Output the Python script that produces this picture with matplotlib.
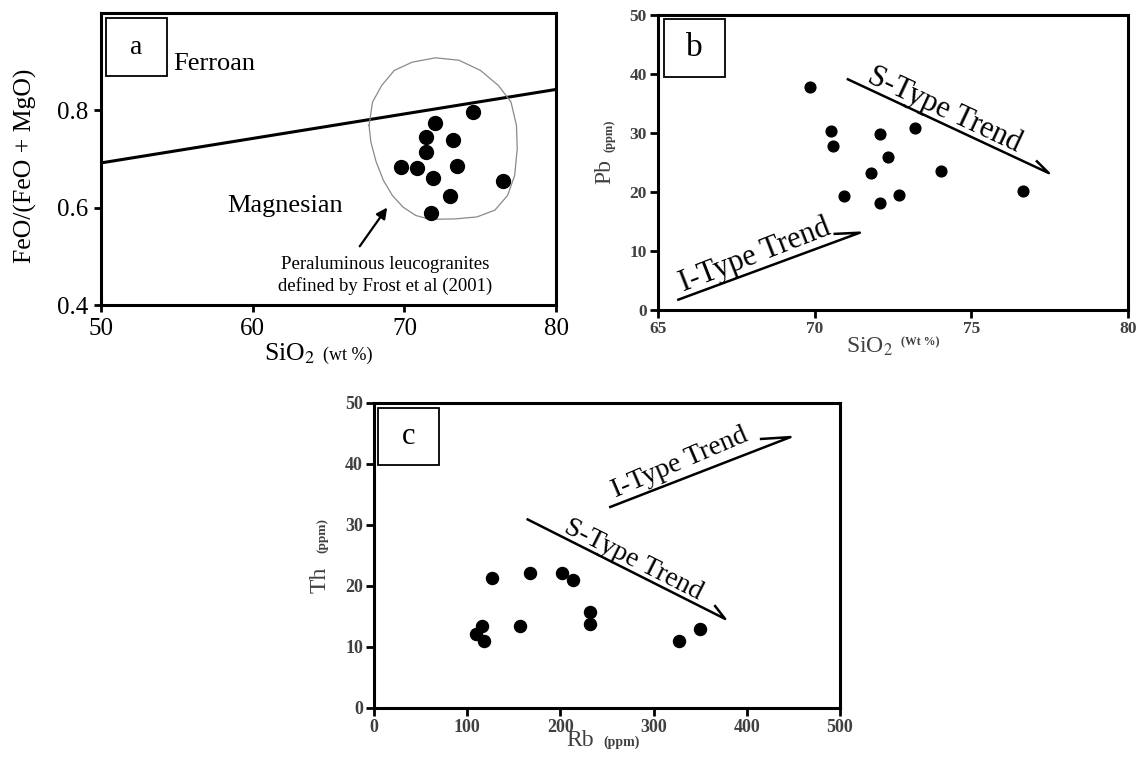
import matplotlib
matplotlib.use("Agg")
import matplotlib.pyplot as plt
import numpy as np
from matplotlib.patches import Rectangle

plt.rcParams['font.family'] = ['Liberation Serif', 'DejaVu Serif']
plt.rcParams['mathtext.fontset'] = 'stix'

# ---------------------------------------
# Panel a : FeO/(FeO+MgO) vs SiO2
# ---------------------------------------
a_sio2 = [69.8, 70.8, 71.9, 71.4, 71.4, 72.0, 73.2, 73.5, 73.0, 71.75, 74.5, 76.5]
a_feo = [0.683, 0.681, 0.662, 0.714, 0.745, 0.774, 0.739, 0.686, 0.624, 0.590, 0.796, 0.654]
a_boundary_x = [50, 80]
a_boundary_y = [0.692, 0.843]
a_field_x = [67.67, 67.90, 68.50, 69.33, 70.51, 72.05, 73.60, 75.02, 76.20, 77.03, 77.39, 77.44,
             77.27, 76.80, 75.97, 74.78, 73.36, 71.70, 70.75, 69.92, 69.21, 68.62, 68.14, 67.79, 67.67]
a_field_y = [0.769, 0.817, 0.851, 0.882, 0.899, 0.908, 0.903, 0.882, 0.851, 0.817, 0.769, 0.721,
             0.666, 0.625, 0.595, 0.581, 0.577, 0.576, 0.584, 0.601, 0.625, 0.656, 0.694, 0.735, 0.769]
a_arrow_tail = (66.95, 0.516)
a_arrow_head = (68.97, 0.605)
a_xticks = [50, 60, 70, 80]
a_yticks = [0.4, 0.6, 0.8]

# ---------------------------------------
# Panel b : Pb vs SiO2
# ---------------------------------------
b_sio2 = [69.85, 70.53, 70.59, 70.95, 71.80, 72.08, 72.07, 72.33, 72.70, 73.20, 74.04, 76.65]
b_pb = [37.8, 30.3, 27.8, 19.4, 23.2, 29.8, 18.1, 25.9, 19.5, 30.9, 23.5, 20.2]
b_s_trend_x = [71.06, 77.47, 77.09]
b_s_trend_y = [39.1, 23.2, 25.2]
b_i_trend_x = [65.65, 71.44, 70.64]
b_i_trend_y = [1.75, 13.1, 12.9]
b_xticks = [65, 70, 75, 80]
b_yticks = [0, 10, 20, 30, 40, 50]

# ---------------------------------------
# Panel c : Th vs Rb
# ---------------------------------------
c_rb = [109, 115.6, 117.5, 126.7, 156.8, 167.6, 201.5, 213.0, 231.9, 231.9, 326.7, 350.2]
c_th = [12.2, 13.4, 11.0, 21.3, 13.4, 22.2, 22.1, 20.9, 15.7, 13.8, 11.0, 13.0]
c_s_trend_x = [164.9, 376.7, 366.0]
c_s_trend_y = [30.9, 14.6, 16.7]
c_i_trend_x = [253.5, 446.8, 415.3]
c_i_trend_y = [32.95, 44.4, 44.1]
c_xticks = [0, 100, 200, 300, 400, 500]
c_yticks = [0, 10, 20, 30, 40, 50]


def line_angle(ax, xs, ys):
    p = ax.transData.transform([(xs[0], ys[0]), (xs[1], ys[1])])
    return np.degrees(np.arctan2(p[1, 1] - p[0, 1], p[1, 0] - p[0, 0]))


def label_box(ax, letter, x0, y0, x1, y1, size):
    ax.add_patch(Rectangle((x0, y0), x1 - x0, y1 - y0, transform=ax.transAxes,
                           fill=False, lw=1.3, ec='black', zorder=5))
    ax.text((x0 + x1) / 2, (y0 + y1) / 2, letter, transform=ax.transAxes,
            ha='center', va='center', fontsize=size, zorder=6)


fig = plt.figure(figsize=(11.39, 7.62), dpi=100)

# ---------------- panel a ----------------
ax = fig.add_axes([0.0887, 0.5997, 0.3995, 0.3832])
ax.set_xlim(50, 80)
ax.set_ylim(0.4, 1.0)
ax.plot(a_boundary_x, a_boundary_y, color='black', lw=2.2)
ax.plot(a_field_x, a_field_y, color='#8a8a8a', lw=0.9)
ax.scatter(a_sio2, a_feo, s=100, color='black', zorder=4)
ax.annotate('', xy=a_arrow_head, xytext=a_arrow_tail,
            arrowprops=dict(arrowstyle='-|>', lw=1.6, color='black', mutation_scale=16))
ax.text(68.73, 0.461, 'Peraluminous leucogranites\ndefined by Frost et al (2001)',
        ha='center', va='center', fontsize=13.5, linespacing=1.25)
ax.text(54.74, 0.896, 'Ferroan', ha='left', va='center', fontsize=19)
ax.text(58.3, 0.603, 'Magnesian', ha='left', va='center', fontsize=19)
ax.set_xticks(a_xticks)
ax.set_yticks(a_yticks)
ax.tick_params(direction='out', length=5, width=2, labelsize=18, pad=4)
for sp in ax.spines.values():
    sp.set_linewidth(2.2)
label_box(ax, 'a', 0.010, 0.784, 0.145, 0.983, 20)
ax.text(-0.167, 0.476, 'FeO/(FeO + MgO)', transform=ax.transAxes, rotation=90,
        ha='center', va='center', fontsize=18.5)
ax.text(0.358, -0.188, 'SiO$_2$', transform=ax.transAxes, ha='left', va='baseline', fontsize=18.5)
ax.text(0.488, -0.188, '(wt %)', transform=ax.transAxes, ha='left', va='baseline', fontsize=13)

# ---------------- panel b ----------------
gray = '#404040'
ax = fig.add_axes([0.5777, 0.5932, 0.4127, 0.3871])
ax.set_xlim(65, 80)
ax.set_ylim(0, 50)
ax.scatter(b_sio2, b_pb, s=60, color='black', zorder=4)
ax.plot(b_s_trend_x, b_s_trend_y, color='black', lw=1.8)
ax.plot(b_i_trend_x, b_i_trend_y, color='black', lw=1.8)
ax.text(74.14, 33.9, 'S-Type Trend', ha='center', va='center', fontsize=22,
        rotation=line_angle(ax, b_s_trend_x, b_s_trend_y), rotation_mode='anchor')
ax.text(68.1, 9.2, 'I-Type Trend', ha='center', va='center', fontsize=22,
        rotation=line_angle(ax, b_i_trend_x, b_i_trend_y) + 1, rotation_mode='anchor')
ax.set_xticks(b_xticks)
ax.set_yticks(b_yticks)
ax.tick_params(direction='out', length=6, width=2, labelsize=12.5, pad=2, labelcolor=gray)
for lab in ax.get_xticklabels() + ax.get_yticklabels():
    lab.set_fontweight('bold')
for sp in ax.spines.values():
    sp.set_linewidth(2.2)
label_box(ax, 'b', 0.012, 0.79, 0.142, 0.985, 24)
ax.text(-0.113, 0.471, 'Pb', transform=ax.transAxes, rotation=90,
        ha='center', va='center', fontsize=17, color=gray)
ax.text(-0.104, 0.59, '(ppm)', transform=ax.transAxes, rotation=90,
        ha='center', va='center', fontsize=9, fontweight='bold', color=gray)
ax.text(0.40, -0.146, 'SiO$_2$', transform=ax.transAxes, ha='left', va='baseline',
        fontsize=17, color=gray)
ax.text(0.517, -0.12, '(Wt %)', transform=ax.transAxes, ha='left', va='baseline',
        fontsize=8.5, fontweight='bold', color=gray)

# ---------------- panel c ----------------
ax = fig.add_axes([0.3284, 0.0709, 0.4091, 0.4003])
ax.set_xlim(0, 500)
ax.set_ylim(0, 50)
ax.scatter(c_rb, c_th, s=75, color='black', zorder=4)
ax.plot(c_s_trend_x, c_s_trend_y, color='black', lw=1.8)
ax.plot(c_i_trend_x, c_i_trend_y, color='black', lw=1.8)
ax.text(278.5, 24.3, 'S-Type Trend', ha='center', va='center', fontsize=20,
        rotation=line_angle(ax, c_s_trend_x, c_s_trend_y), rotation_mode='anchor')
ax.text(328.6, 40.2, 'I-Type Trend', ha='center', va='center', fontsize=20,
        rotation=line_angle(ax, c_i_trend_x, c_i_trend_y) + 2, rotation_mode='anchor')
ax.set_xticks(c_xticks)
ax.set_yticks(c_yticks)
ax.tick_params(direction='out', length=6, width=2, labelsize=13, pad=2, labelcolor=gray)
for lab in ax.get_xticklabels() + ax.get_yticklabels():
    lab.set_fontweight('bold')
for sp in ax.spines.values():
    sp.set_linewidth(2.2)
label_box(ax, 'c', 0.008, 0.795, 0.139, 0.984, 22)
ax.text(-0.116, 0.42, 'Th', transform=ax.transAxes, rotation=90,
        ha='center', va='center', fontsize=17, color=gray)
ax.text(-0.11, 0.567, '(ppm)', transform=ax.transAxes, rotation=90,
        ha='center', va='center', fontsize=9.5, fontweight='bold', color=gray)
ax.text(0.442, -0.108, 'Rb', transform=ax.transAxes, ha='center', va='center',
        fontsize=17, color=gray)
ax.text(0.532, -0.112, '(ppm)', transform=ax.transAxes, ha='center', va='center',
        fontsize=10, fontweight='bold', color=gray)

fig.savefig('out.png', dpi=100)
